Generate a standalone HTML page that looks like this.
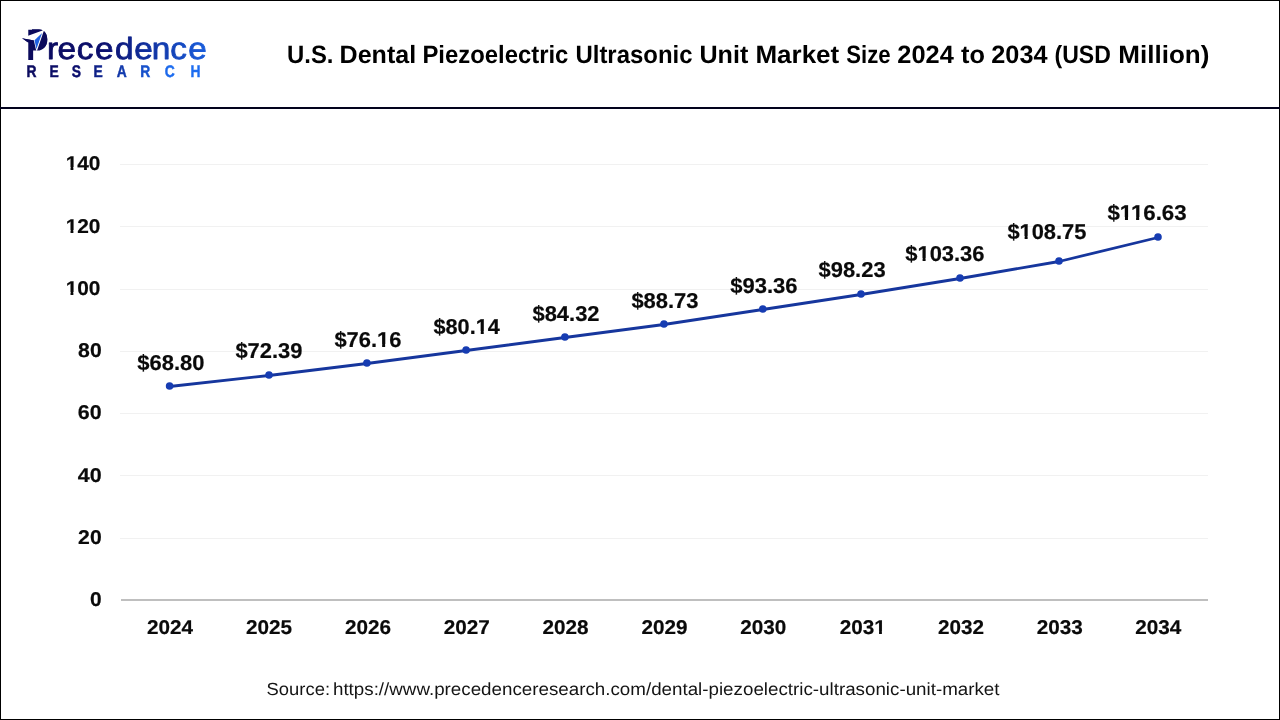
<!DOCTYPE html>
<html lang="en">
<head>
<meta charset="utf-8">
<title>U.S. Dental Piezoelectric Ultrasonic Unit Market Size 2024 to 2034 (USD Million)</title>
<style>
html,body{margin:0;padding:0;background:#fff;}
body{width:1280px;height:720px;overflow:hidden;position:relative;font-family:"Liberation Sans",sans-serif;}
svg{position:absolute;left:0;top:0;display:block;}
text{font-family:"Liberation Sans",sans-serif;white-space:pre;text-rendering:geometricPrecision;}
.ax{font-weight:bold;font-size:20px;fill:#0a0a0a;stroke:#0a0a0a;stroke-width:0.2px;}
.dl{font-weight:bold;font-size:21.5px;fill:#0a0a0a;stroke:#0a0a0a;stroke-width:0.2px;}
.ttl{font-weight:bold;font-size:25px;fill:#000;}
.src{font-size:17.6px;fill:#141414;}
</style>
</head>
<body>
<svg width="1280" height="720" viewBox="0 0 1280 720">
<defs>
<linearGradient id="lg" gradientUnits="userSpaceOnUse" x1="22" y1="0" x2="206" y2="0">
<stop offset="0" stop-color="#0b0a5c"/>
<stop offset="0.4" stop-color="#0b0f6e"/>
<stop offset="0.62" stop-color="#10309f"/>
<stop offset="1" stop-color="#1c6cf0"/>
</linearGradient>
</defs>
<rect x="0" y="0" width="1280" height="720" fill="#fff"/>
<rect x="0.5" y="0.5" width="1279" height="719" fill="none" stroke="#000" stroke-width="1"/>
<rect x="0" y="107" width="1280" height="2" fill="#02021c"/>
<g id="logo">
<text transform="scale(1.09,1)" fill="url(#lg)"><tspan x="23.90" y="59.5" font-size="44" font-weight="bold" fill="#0b0a5c" textLength="20.73" lengthAdjust="spacingAndGlyphs">P</tspan><tspan y="59.1" font-size="30.6" stroke="url(#lg)" stroke-width="0.8" stroke-linejoin="round" x="43.19 52.75 70.33 87.15 105.48 123.11 139.28 156.20 172.70">recedence</tspan></text>
<path d="M32,29.35 L39.3,29.35 C44.3,29.8 47.15,34.5 47.15,40 C47.15,46.1 43.4,50.6 37.4,50.6 L32,50.6 Z" fill="#0b0a5c"/>
<polygon points="21.9,38.0 34.1,40.4 33,43 27.6,42.2" fill="#0b0a5c"/>
<polygon points="21.9,38.1 42.5,30.6 43.3,29.0 44.2,29.7 37.0,50.8 36.2,50.8 33.9,40.5" fill="#fff"/>
<polygon points="22.1,38.3 33.9,40.5 33,42.6 27.6,41.9" fill="#0b0a5c"/>
<polygon points="42.1,33.0 34.5,40.3 36.45,49.0" fill="#1f5fe0"/>
<text transform="scale(0.83,1)" y="76.9" font-size="16.7" font-weight="bold" fill="url(#lg)" stroke="url(#lg)" stroke-width="0.45" x="31.88 59.62 86.58 112.75 140.61 168.87 198.50 229.59">RESEARCH</text>
</g>
<text class="ttl" y="62.5"><tspan x="287.07" textLength="46.45" lengthAdjust="spacingAndGlyphs">U.S.</tspan> <tspan x="339.62" textLength="76.47" lengthAdjust="spacingAndGlyphs">Dental</tspan> <tspan x="422.45" textLength="145.93" lengthAdjust="spacingAndGlyphs">Piezoelectric</tspan> <tspan x="575.46" textLength="117.06" lengthAdjust="spacingAndGlyphs">Ultrasonic</tspan> <tspan x="699.49" textLength="48.81" lengthAdjust="spacingAndGlyphs">Unit</tspan> <tspan x="755.41" textLength="83.80" lengthAdjust="spacingAndGlyphs">Market</tspan> <tspan x="846.35" textLength="44.34" lengthAdjust="spacingAndGlyphs">Size</tspan> <tspan x="897.34" textLength="56.44" lengthAdjust="spacingAndGlyphs">2024</tspan> <tspan x="961.00" textLength="23.91" lengthAdjust="spacingAndGlyphs">to</tspan> <tspan x="991.34" textLength="56.19" lengthAdjust="spacingAndGlyphs">2034</tspan> <tspan x="1054.56" textLength="56.29" lengthAdjust="spacingAndGlyphs">(USD</tspan> <tspan x="1118.31" textLength="91.04" lengthAdjust="spacingAndGlyphs">Million)</tspan></text>
<rect x="120" y="164" width="1088" height="1" fill="#f1f1f1"/>
<rect x="120" y="226" width="1088" height="1" fill="#f1f1f1"/>
<rect x="120" y="289" width="1088" height="1" fill="#f1f1f1"/>
<rect x="120" y="351" width="1088" height="1" fill="#f1f1f1"/>
<rect x="120" y="413" width="1088" height="1" fill="#f1f1f1"/>
<rect x="120" y="475" width="1088" height="1" fill="#f1f1f1"/>
<rect x="120" y="538" width="1088" height="1" fill="#f1f1f1"/>
<rect x="121" y="599" width="1087" height="2" fill="#bfbfbf"/>
<text class="ax" transform="translate(65.65,169.85) scale(1.0431,1)">140</text>
<rect x="66.00" y="167.00" width="4.52" height="4.00" fill="#fff"/><rect x="73.38" y="167.00" width="3.62" height="4.00" fill="#fff"/>
<text class="ax" transform="translate(65.65,232.75) scale(1.0431,1)">120</text>
<rect x="66.00" y="230.00" width="4.52" height="4.00" fill="#fff"/><rect x="73.38" y="230.00" width="3.62" height="4.00" fill="#fff"/>
<text class="ax" transform="translate(65.65,294.85) scale(1.0431,1)">100</text>
<rect x="66.00" y="292.00" width="4.52" height="4.00" fill="#fff"/><rect x="73.38" y="292.00" width="3.62" height="4.00" fill="#fff"/>
<text class="ax" transform="translate(78.11,356.85) scale(1.0586,1)">80</text>
<text class="ax" transform="translate(77.85,418.85) scale(1.0709,1)">60</text>
<text class="ax" transform="translate(77.78,481.75) scale(1.0743,1)">40</text>
<text class="ax" transform="translate(78.11,543.91) scale(1.0586,1)">20</text>
<text class="ax" transform="translate(90.02,606.10) scale(1.0464,1)">0</text>
<text class="ax" transform="translate(146.88,633.95) scale(1.0350,1)">2024</text>
<text class="ax" transform="translate(245.97,633.95) scale(1.0350,1)">2025</text>
<text class="ax" transform="translate(344.90,633.95) scale(1.0350,1)">2026</text>
<text class="ax" transform="translate(443.78,633.95) scale(1.0350,1)">2027</text>
<text class="ax" transform="translate(542.46,633.95) scale(1.0350,1)">2028</text>
<text class="ax" transform="translate(641.39,633.95) scale(1.0350,1)">2029</text>
<text class="ax" transform="translate(740.22,633.95) scale(1.0350,1)">2030</text>
<text class="ax" transform="translate(839.69,633.95) scale(1.0350,1)">2031</text>
<rect x="875.00" y="631.00" width="4.05" height="4.00" fill="#fff"/><rect x="881.89" y="631.00" width="4.11" height="4.00" fill="#fff"/>
<text class="ax" transform="translate(937.88,633.95) scale(1.0350,1)">2032</text>
<text class="ax" transform="translate(1036.71,633.95) scale(1.0350,1)">2033</text>
<text class="ax" transform="translate(1135.18,633.95) scale(1.0350,1)">2034</text>
<polyline points="169.60,386.50 269.00,375.50 366.90,363.50 466.10,350.50 564.90,337.50 663.95,324.50 762.80,309.50 861.00,294.50 960.00,278.50 1059.00,261.50 1158.00,237.50" fill="none" stroke="#16369d" stroke-width="2.8" stroke-linejoin="round" stroke-linecap="round"/>
<circle cx="169.60" cy="386.00" r="3.8" fill="#163cb2"/>
<circle cx="269.00" cy="375.00" r="3.8" fill="#163cb2"/>
<circle cx="366.90" cy="363.00" r="3.8" fill="#163cb2"/>
<circle cx="466.10" cy="350.00" r="3.8" fill="#163cb2"/>
<circle cx="564.90" cy="337.00" r="3.8" fill="#163cb2"/>
<circle cx="663.95" cy="324.00" r="3.8" fill="#163cb2"/>
<circle cx="762.80" cy="309.00" r="3.8" fill="#163cb2"/>
<circle cx="861.00" cy="294.00" r="3.8" fill="#163cb2"/>
<circle cx="960.00" cy="278.00" r="3.8" fill="#163cb2"/>
<circle cx="1059.00" cy="261.00" r="3.8" fill="#163cb2"/>
<circle cx="1158.00" cy="237.00" r="3.8" fill="#163cb2"/>
<text class="dl" transform="translate(137.28,370.00) scale(1.0206,1)">$68.80</text>
<text class="dl" transform="translate(235.38,357.90) scale(1.0190,1)">$72.39</text>
<text class="dl" transform="translate(334.38,346.95) scale(1.0190,1)">$76.16</text>
<rect x="378.00" y="344.00" width="4.14" height="4.00" fill="#fff"/><rect x="385.14" y="344.00" width="3.86" height="4.00" fill="#fff"/>
<text class="dl" transform="translate(433.48,333.90) scale(1.0089,1)">$80.14</text>
<rect x="476.00" y="331.00" width="4.76" height="4.00" fill="#fff"/><rect x="483.74" y="331.00" width="4.26" height="4.00" fill="#fff"/>
<text class="dl" transform="translate(532.48,320.90) scale(1.0198,1)">$84.32</text>
<text class="dl" transform="translate(631.38,307.90) scale(1.0206,1)">$88.73</text>
<text class="dl" transform="translate(730.28,293.00) scale(1.0221,1)">$93.36</text>
<text class="dl" transform="translate(818.48,276.95) scale(1.0206,1)">$98.23</text>
<text class="dl" transform="translate(905.28,260.90) scale(1.0192,1)">$103.36</text>
<rect x="918.00" y="258.00" width="4.58" height="4.00" fill="#fff"/><rect x="925.59" y="258.00" width="4.41" height="4.00" fill="#fff"/>
<text class="dl" transform="translate(1007.38,239.00) scale(1.0164,1)">$108.75</text>
<rect x="1020.00" y="236.00" width="4.63" height="4.00" fill="#fff"/><rect x="1027.63" y="236.00" width="4.37" height="4.00" fill="#fff"/>
<text class="dl" transform="translate(1107.38,220.00) scale(1.0352,1)">$116.63</text>
<rect x="1120.00" y="217.00" width="4.95" height="4.00" fill="#fff"/><rect x="1128.00" y="217.00" width="4.00" height="4.00" fill="#fff"/><rect x="1132.00" y="217.00" width="4.10" height="4.00" fill="#fff"/><rect x="1139.16" y="217.00" width="3.84" height="4.00" fill="#fff"/>
<text class="src" y="694.9"><tspan x="266.57" textLength="63.45" lengthAdjust="spacingAndGlyphs">Source:</tspan> <tspan x="332.98" textLength="666.57" lengthAdjust="spacingAndGlyphs">https://www.precedenceresearch.com/dental-piezoelectric-ultrasonic-unit-market</tspan></text>
</svg>
</body>
</html>
